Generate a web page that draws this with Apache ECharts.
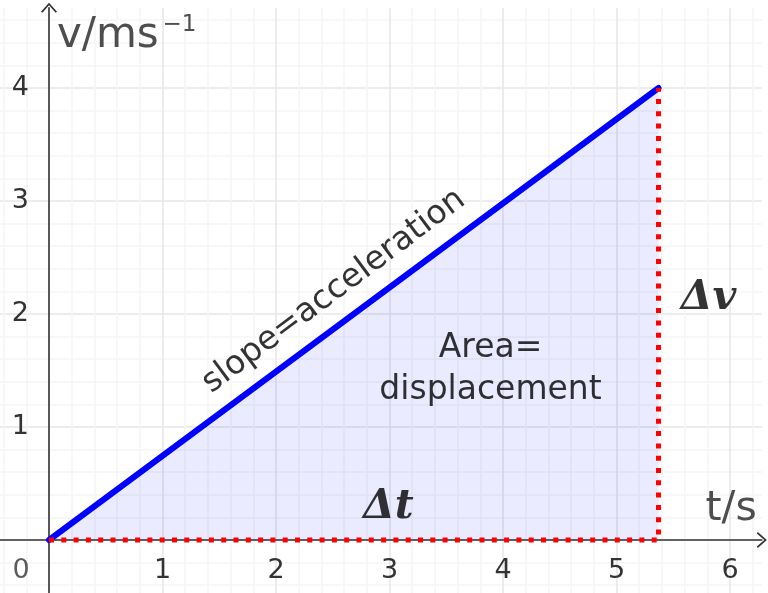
<!DOCTYPE html>
<html>
<head>
<meta charset="utf-8">
<script src="https://cdn.jsdelivr.net/npm/echarts@6/dist/echarts.min.js"></script>
<style>
  html, body { margin: 0; padding: 0; background: #fff; }
  #chart { width: 768px; height: 593px; }
</style>
</head>
<body>
<div id="chart"></div>
<script>
// velocity-time line
const timeValues = [0, 5.37];
const velocityValues = [0, 4];
// dotted guides: along the t axis, then up to the end point
const guideTimes = [0, 5.37, 5.37];
const guideVelocities = [0, 0, 4];
const xTickLabels = [1, 2, 3, 4, 5, 6];
const yTickLabels = [1, 2, 3, 4];

const FONT = "DejaVu Sans";
const minorColor = "#f4f4f4";
const majorColor = "#e6e6e6";
const gridColors = [minorColor, minorColor, minorColor, majorColor, minorColor];

function tickFormatter(list) {
  return v => {
    const r = Math.round(v);
    return Math.abs(v - r) < 1e-6 && list.includes(r) ? String(r) : "";
  };
}

const chevron = "path://M0,10 L9,0 L18,10 L16.4,11.2 L9,2.8 L1.6,11.2 Z";

function textPoint(x, y, text, style) {
  return {
    value: [x, y],
    label: Object.assign({
      show: true,
      formatter: text,
      position: "inside",
      color: "#000",
      fontFamily: FONT,
      fontSize: 33
    }, style)
  };
}

// background axes: full canvas, grid lines + arrowed axis lines through the origin
const bgAxis = (min, max) => ({
  type: "value",
  gridIndex: 0,
  min: min,
  max: max,
  interval: 0.2,
  axisLine: {
    onZero: true,
    symbol: ["none", chevron],
    symbolSize: [18, 10],
    lineStyle: { color: "#333", width: 1.6 }
  },
  axisTick: { show: false },
  axisLabel: { show: false },
  splitLine: {
    show: true,
    showMaxLine: false,
    lineStyle: { color: gridColors, width: 1.5 }
  }
});

// label axes: grid starts at the origin so tick labels sit next to the zero lines
const labelAxis = (max, list, margin) => ({
  type: "value",
  gridIndex: 1,
  min: 0,
  max: max,
  interval: 1,
  axisLine: { show: false },
  axisTick: { show: false },
  splitLine: { show: false },
  axisLabel: {
    formatter: tickFormatter(list),
    fontFamily: FONT,
    fontSize: 27,
    color: "#333",
    margin: margin
  }
});

const chart = echarts.init(document.getElementById("chart"));
chart.setOption({
  backgroundColor: "#ffffff",
  animation: false,
  grid: [
    { left: -19.1, right: 6.2, top: 7.8, bottom: -14.8, outerBoundsMode: "none", containLabel: false },
    { left: 49, right: 6.2, top: 7.8, bottom: 53, outerBoundsMode: "none", containLabel: false }
  ],
  xAxis: [bgAxis(-0.6, 6.28), labelAxis(6.28, xTickLabels, 17)],
  yAxis: [bgAxis(-0.6, 4.71), labelAxis(4.71, yTickLabels, 20)],
  series: [
    {
      type: "line",
      xAxisIndex: 0,
      yAxisIndex: 0,
      data: timeValues.map((t, i) => [t, velocityValues[i]]),
      symbol: "none",
      lineStyle: { color: "#0000ff", width: 6, cap: "round" },
      areaStyle: { color: "rgba(0,0,255,0.11)" },
      z: 3
    },
    {
      type: "line",
      xAxisIndex: 0,
      yAxisIndex: 0,
      data: guideTimes.map((t, i) => [t, guideVelocities[i]]),
      symbol: "none",
      lineStyle: { color: "#ff0000", width: 5, type: [5, 7.3] },
      z: 4
    },
    {
      type: "scatter",
      xAxisIndex: 0,
      yAxisIndex: 0,
      symbolSize: 0,
      silent: true,
      clip: false,
      z: 5,
      data: [
        textPoint(2.51, 2.2, "slope=acceleration", { rotate: 36.7 }),
        textPoint(3.89, 1.51, "Area=\ndisplacement", { lineHeight: 42, align: "center" }),
        textPoint(2.99, 0.29, "Δt", { fontFamily: "DejaVu Serif", fontStyle: "italic", fontWeight: "bold", fontSize: 41 }),
        textPoint(5.81, 2.14, "Δv", { fontFamily: "DejaVu Serif", fontStyle: "italic", fontWeight: "bold", fontSize: 41 }),
        textPoint(-0.247, -0.274, "0", { fontSize: 27, color: "#333" }),
        textPoint(0.07, 4.46, "v/ms", { fontSize: 42, color: "#222", position: "right", distance: 0 }),
        textPoint(1.0, 4.56, "−1", { fontSize: 23, color: "#222", position: "right", distance: 0 }),
        textPoint(6.01, 0.27, "t/s", { fontSize: 41, color: "#222" })
      ]
    }
  ]
});

window.addEventListener("resize", () => chart.resize());
</script>
</body>
</html>
